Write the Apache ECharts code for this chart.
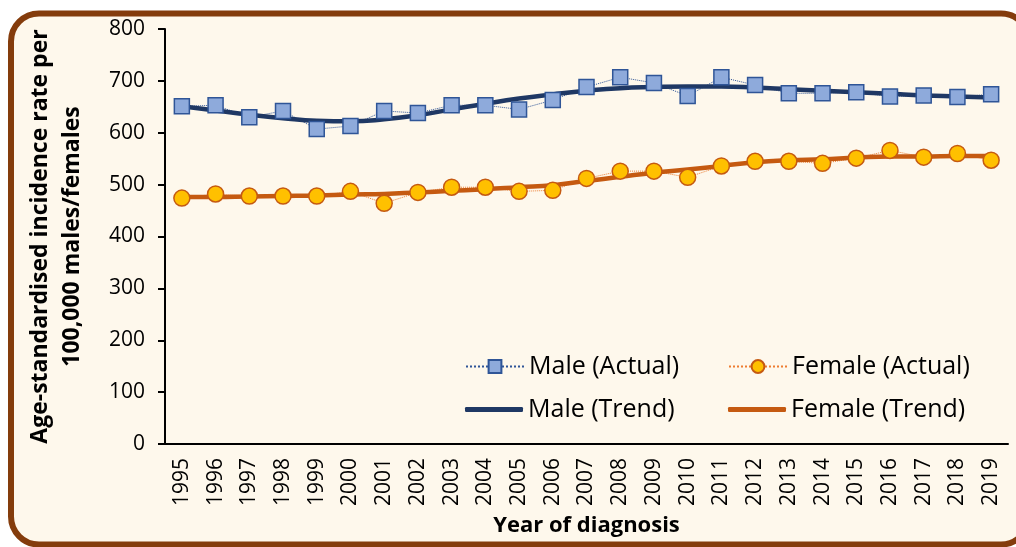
<!DOCTYPE html>
<html>
<head>
<meta charset="utf-8">
<script src="https://cdn.jsdelivr.net/npm/echarts@6/dist/echarts.min.js"></script>
<style>
  html, body { margin: 0; padding: 0; background: #ffffff; }
  #chart { width: 1016px; height: 547px; }
</style>
</head>
<body>
<div id="chart"></div>
<script>
// 诊断年份
const years = ['1995', '1996', '1997', '1998', '1999', '2000', '2001', '2002', '2003', '2004',
    '2005', '2006', '2007', '2008', '2009', '2010', '2011', '2012', '2013', '2014',
    '2015', '2016', '2017', '2018', '2019'];

// 实际值
const maleActual = [651, 653, 630, 642, 607, 613, 642, 638, 653, 653,
    645, 663, 688, 707, 696, 671, 707, 692, 676, 676,
    678, 670, 672, 669, 674];
const femaleActual = [474, 482, 478, 478, 478, 487, 464, 485, 495, 495,
    487, 489, 512, 526, 526, 514, 536, 545, 545, 541,
    551, 566, 553, 560, 547];

// 趋势线
const maleTrend = [651, 643, 635, 628, 623, 622, 626, 634, 645, 656,
    666, 674, 681, 686, 688, 689, 689, 687, 684, 681,
    678, 675, 672, 670, 668];
const femaleTrend = [476, 476, 477, 478, 479, 481, 482, 485, 488, 491,
    495, 499, 507, 515, 523, 529, 536, 543, 547, 549,
    552, 554, 554, 555, 555];

const yTicks = { min: 0, max: 800, interval: 100 };

const chart = echarts.init(document.getElementById('chart'));
const font = 'Open Sans';

const legendBase = {
    orient: 'horizontal',
    itemWidth: 58,
    itemHeight: 16,
    itemGap: 10,
    textStyle: { fontFamily: font, fontSize: 25, color: '#000' }
};

const option = {
    backgroundColor: '#ffffff',
    graphic: [{
        type: 'rect',
        z: -10,
        shape: { x: 11, y: 13.5, width: 1018, height: 531, r: 28 },
        style: { fill: '#fef8ec', stroke: '#843c0c', lineWidth: 6 }
    }],
    grid: { left: 165, right: 8, top: 29, bottom: 103 },
    legend: [
        Object.assign({}, legendBase, { data: ['Male (Actual)'], left: 460, top: 349 }),
        Object.assign({}, legendBase, { data: ['Female (Actual)'], left: 723, top: 349 }),
        Object.assign({}, legendBase, { data: [{ name: 'Male (Trend)', icon: 'roundRect' }], itemHeight: 5, left: 460, top: 392 }),
        Object.assign({}, legendBase, { data: [{ name: 'Female (Trend)', icon: 'roundRect' }], itemHeight: 5, left: 723, top: 392 })
    ],
    xAxis: {
        type: 'category',
        data: years,
        boundaryGap: true,
        name: 'Year of diagnosis',
        nameLocation: 'middle',
        nameGap: 71,
        nameTextStyle: { fontFamily: font, fontSize: 22, fontWeight: 'bold', color: '#000' },
        axisLine: { lineStyle: { color: '#000', width: 2 } },
        axisTick: { alignWithLabel: false, length: 8, lineStyle: { color: '#000', width: 2 } },
        axisLabel: { rotate: 90, interval: 0, margin: 14, fontFamily: font, fontSize: 21, color: '#000' },
        splitLine: { show: false }
    },
    yAxis: {
        type: 'value',
        min: yTicks.min,
        max: yTicks.max,
        interval: yTicks.interval,
        name: 'Age-standardised incidence rate per\n100,000 males/females',
        nameLocation: 'middle',
        nameRotate: 90,
        nameGap: 77,
        nameTextStyle: { fontFamily: font, fontSize: 23, fontWeight: 'bold', color: '#000', lineHeight: 32 },
        axisLine: { show: true, lineStyle: { color: '#000', width: 2 } },
        axisTick: { show: true, length: 7, lineStyle: { color: '#000', width: 2 } },
        axisLabel: { margin: 20, fontFamily: font, fontSize: 21, color: '#000' },
        splitLine: { show: false }
    },
    series: [
        {
            name: 'Male (Actual)',
            type: 'line',
            data: maleActual,
            symbol: 'rect',
            symbolSize: 15,
            itemStyle: { color: '#8eaadb', borderColor: '#2f5597', borderWidth: 1.5 },
            lineStyle: { color: '#2f5597', width: 1, type: 'dotted' }
        },
        {
            name: 'Female (Actual)',
            type: 'line',
            data: femaleActual,
            symbol: 'circle',
            symbolSize: 16,
            itemStyle: { color: '#ffc000', borderColor: '#c55a11', borderWidth: 1.5 },
            lineStyle: { color: '#ed7d31', width: 1, type: 'dotted' }
        },
        {
            name: 'Male (Trend)',
            type: 'line',
            data: maleTrend,
            smooth: true,
            showSymbol: false,
            symbol: 'none',
            itemStyle: { color: '#1f3864' },
            lineStyle: { color: '#1f3864', width: 4.5, cap: 'round' }
        },
        {
            name: 'Female (Trend)',
            type: 'line',
            data: femaleTrend,
            smooth: true,
            showSymbol: false,
            symbol: 'none',
            itemStyle: { color: '#c55a11' },
            lineStyle: { color: '#c55a11', width: 4.5, cap: 'round' }
        }
    ]
};

chart.setOption(option);
</script>
</body>
</html>
